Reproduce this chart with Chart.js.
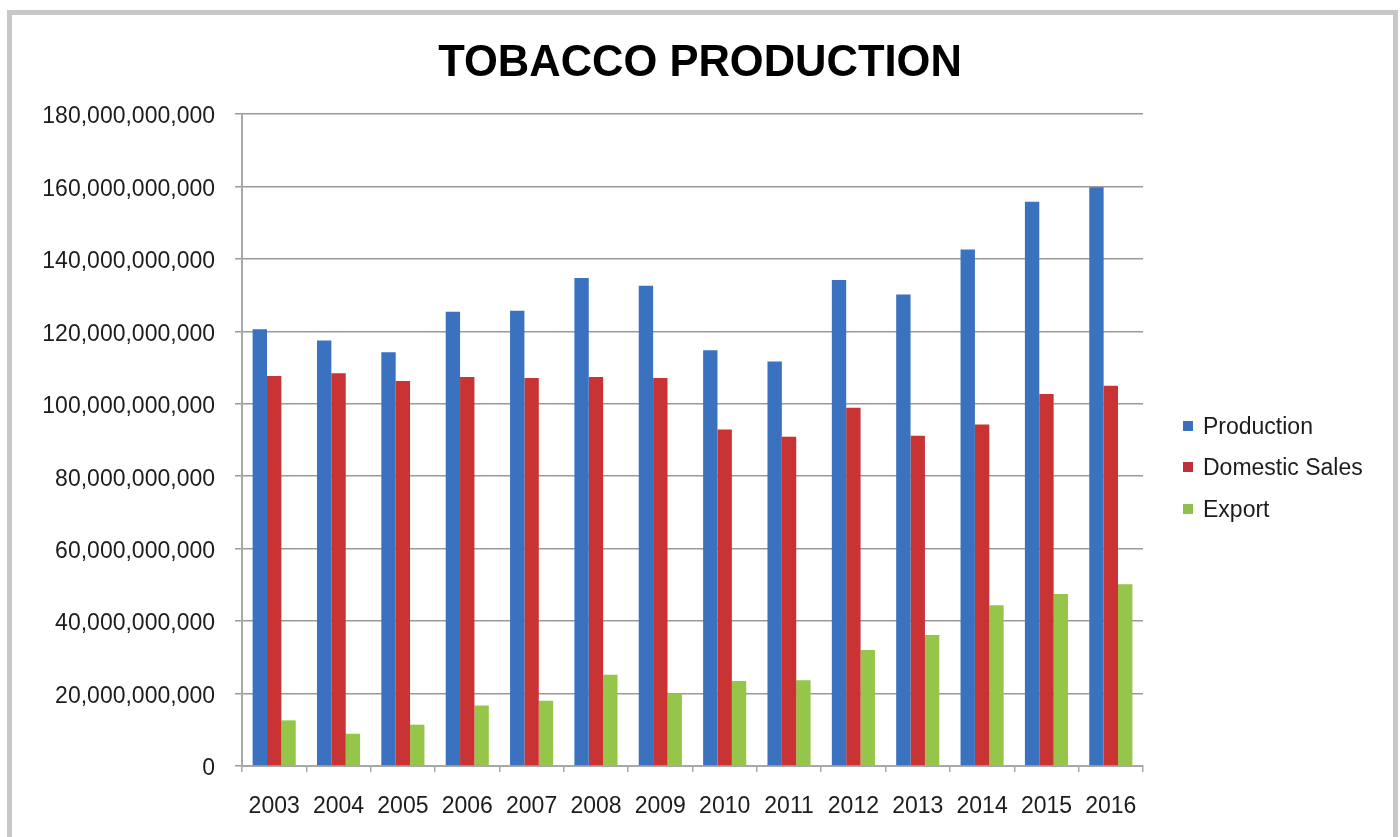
<!DOCTYPE html>
<html>
<head>
<meta charset="utf-8">
<title>Tobacco Production</title>
<script src="https://cdn.jsdelivr.net/npm/chart.js@4/dist/chart.umd.min.js"></script>
<style>
  html, body { margin: 0; padding: 0; background: #ffffff; }
  #wrap { position: relative; width: 1400px; height: 837px; overflow: hidden; }
  #frame {
    position: absolute; left: 7px; top: 10px; width: 1381px; height: 900px;
    border: 5px solid #c8c8c8; box-sizing: content-box; pointer-events: none;
  }
  canvas { position: absolute; left: 0; top: 0; }
</style>
</head>
<body>
<div id="wrap">
  <canvas id="chart" width="1400" height="837"></canvas>
  <div id="frame"></div>
</div>
<script>
// Years on the category axis
const years = ['2003', '2004', '2005', '2006', '2007', '2008', '2009',
               '2010', '2011', '2012', '2013', '2014', '2015', '2016'];

// Annual totals
const production = [120.6e9, 117.5e9, 114.2e9, 125.4e9, 125.7e9, 134.7e9, 132.6e9,
                    114.8e9, 111.7e9, 134.2e9, 130.2e9, 142.6e9, 155.8e9, 159.8e9];
const domesticSales = [107.7e9, 108.4e9, 106.3e9, 107.4e9, 107.1e9, 107.4e9, 107.1e9,
                       92.9e9, 90.9e9, 98.9e9, 91.2e9, 94.3e9, 102.7e9, 105.0e9];
const exportVolume = [12.6e9, 8.9e9, 11.4e9, 16.7e9, 18.0e9, 25.2e9, 20.0e9,
                      23.5e9, 23.7e9, 32.0e9, 36.2e9, 44.4e9, 47.5e9, 50.2e9];

// Value-axis ticks
const yTickValues = [0, 20e9, 40e9, 60e9, 80e9, 100e9, 120e9, 140e9, 160e9, 180e9];

const seriesNames = ['Production', 'Domestic Sales', 'Export'];
const seriesColors = ['#3a72bf', '#c93334', '#95c64a'];
const legendColors = ['#3d6fc0', '#c0303a', '#8fbf4f'];

const FONT = '"Liberation Sans", Arial, sans-serif';
const TEXT = '#1c1c1c';

// Legend drawn at the right of the plot, built from the datasets
const sideLegend = {
  id: 'sideLegend',
  afterDraw(chart) {
    const ctx = chart.ctx;
    const boxX = 1183, textX = 1203;
    const rows = [427, 468, 510];
    ctx.save();
    ctx.font = '23px ' + FONT;
    ctx.textBaseline = 'middle';
    ctx.textAlign = 'left';
    chart.data.datasets.forEach((ds, i) => {
      ctx.fillStyle = legendColors[i];
      ctx.fillRect(boxX, rows[i] - 6, 10, 10);
      ctx.fillStyle = TEXT;
      ctx.fillText(ds.label, textX, rows[i] + 1);
    });
    ctx.restore();
  }
};

new Chart(document.getElementById('chart'), {
  type: 'bar',
  data: {
    labels: years,
    datasets: [
      { label: seriesNames[0], data: production, backgroundColor: seriesColors[0] },
      { label: seriesNames[1], data: domesticSales, backgroundColor: seriesColors[1] },
      { label: seriesNames[2], data: exportVolume, backgroundColor: seriesColors[2] }
    ]
  },
  options: {
    responsive: false,
    animation: false,
    devicePixelRatio: 1,
    layout: { padding: 0 },
    datasets: { bar: { categoryPercentage: 0.67, barPercentage: 1.0, borderWidth: 0 } },
    plugins: {
      legend: { display: false },
      tooltip: { enabled: false },
      title: {
        display: true,
        text: 'TOBACCO PRODUCTION',
        color: '#000000',
        font: { family: FONT, size: 43.5, weight: 'bold', lineHeight: 1.2 },
        padding: { top: 38, bottom: 23.8 }
      }
    },
    scales: {
      x: {
        offset: true,
        afterFit(scale) { scale.height = 71; },
        grid: {
          display: true, offset: true, drawOnChartArea: false, drawTicks: true,
          tickLength: 6, color: '#a8a8a8', lineWidth: 1.5
        },
        border: { display: true, color: '#a8a8a8', width: 2 },
        ticks: {
          color: TEXT, padding: 21, maxRotation: 0, autoSkip: false,
          font: { family: FONT, size: 23 }
        }
      },
      y: {
        min: 0,
        max: 180e9,
        afterBuildTicks(scale) {
          scale.ticks = yTickValues.map(v => ({ value: v }));
        },
        afterFit(scale) { scale.width = 242; },
        grid: {
          color: '#9a9a9a', lineWidth: 1.5, drawTicks: true, tickLength: 7
        },
        border: { display: true, color: '#a8a8a8', width: 2 },
        ticks: {
          color: TEXT, padding: 20, labelOffset: 3,
          font: { family: FONT, size: 23 },
          callback: v => Number(v).toLocaleString('en-US')
        }
      },
      // empty right-hand gutter that holds the legend
      gutter: {
        type: 'linear',
        position: 'right',
        afterFit(scale) { scale.width = 257; },
        grid: { display: false },
        border: { display: false },
        ticks: { display: false }
      }
    }
  },
  plugins: [sideLegend]
});
</script>
</body>
</html>
